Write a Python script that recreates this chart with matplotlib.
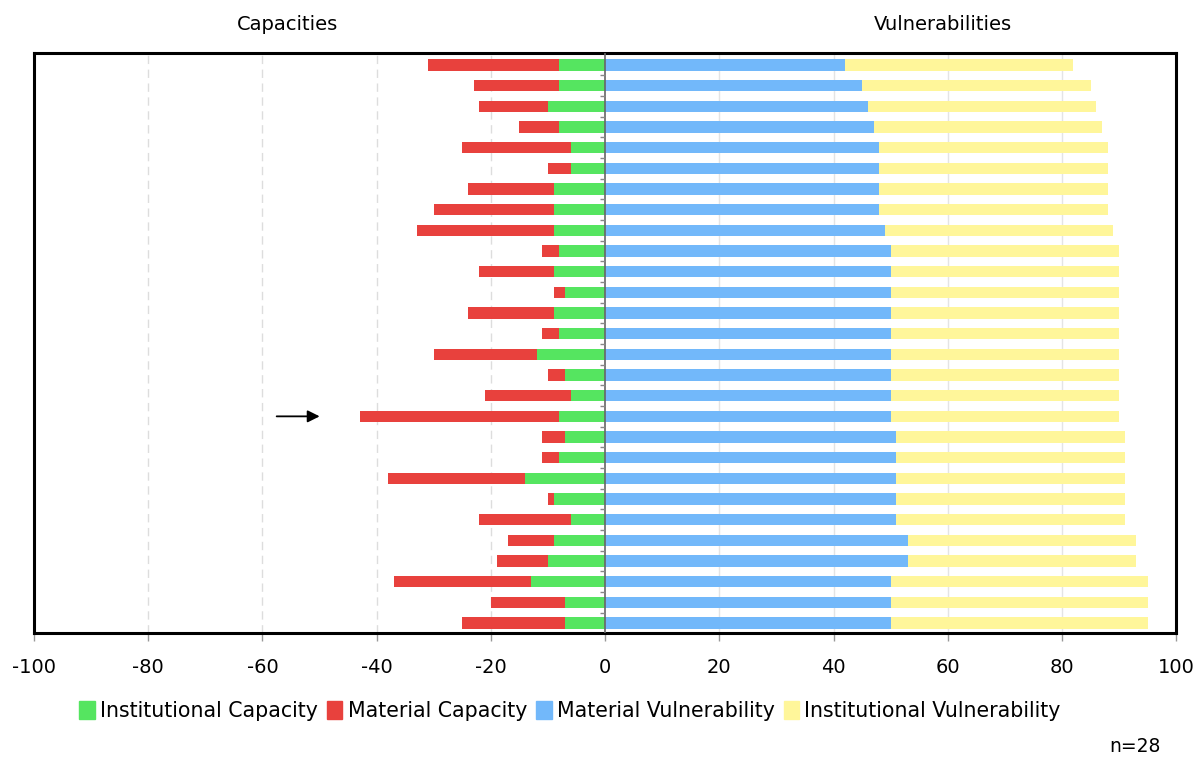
import matplotlib
matplotlib.use("Agg")
import matplotlib.pyplot as plt
from matplotlib.patches import Patch
import numpy as np

plt.rcParams['font.family'] = ['DejaVu Sans']

# Data (28 respondents, top to bottom)
institutional_capacity = [8, 8, 10, 8, 6, 6, 9, 9, 9, 8, 9, 7, 9, 8, 12, 7, 6, 8, 7, 8,
                          14, 9, 6, 9, 10, 13, 7, 7]
material_capacity = [23, 15, 12, 7, 19, 4, 15, 21, 24, 3, 13, 2, 15, 3, 18, 3, 15, 35, 4, 3,
                     24, 1, 16, 8, 9, 24, 13, 18]
material_vulnerability = [42, 45, 46, 47, 48, 48, 48, 48, 49, 50, 50, 50, 50, 50, 50, 50, 50, 50,
                          51, 51, 51, 51, 51, 53, 53, 50, 50, 50]
institutional_vulnerability = [40] * 25 + [45, 45, 45]

series_labels = ["Institutional Capacity", "Material Capacity",
                 "Material Vulnerability", "Institutional Vulnerability"]
xticks = [-100, -80, -60, -40, -20, 0, 20, 40, 60, 80, 100]

c_green = "#55e560"
c_red = "#e8413d"
c_blue = "#72b8fa"
c_yellow = "#fff69a"

fig = plt.figure(figsize=(11.93, 7.58), dpi=100)
ax = fig.add_axes([0.0285, 0.165, 0.9575, 0.765])

n = len(institutional_capacity)
y = np.arange(n)
ic = np.array(institutional_capacity)
mc = np.array(material_capacity)
mv = np.array(material_vulnerability)
iv = np.array(institutional_vulnerability)
h = 0.55

# gridlines
for t in xticks[1:-1]:
    if t < 0:
        ax.axvline(t, color="#dddddd", lw=1, ls=(0, (6, 4)), zorder=0)
    elif t > 0:
        ax.axvline(t, color="#e4e4e4", lw=1, zorder=0)

ax.barh(y, -ic, height=h, color=c_green, zorder=2)
ax.barh(y, -mc, left=-ic, height=h, color=c_red, zorder=2)
ax.barh(y, mv, height=h, color=c_blue, zorder=2)
ax.barh(y, iv, left=mv, height=h, color=c_yellow, zorder=2)

# center axis with minor ticks
ax.axvline(0, color="#666666", lw=1.2, zorder=3)
ax.hlines(y[:-1] + 0.5, -0.9, 0, color="#888888", lw=1, zorder=3)

ax.set_xlim(-100, 100)
ax.set_ylim(n - 0.52, -0.58)
ax.set_yticks([])
ax.set_xticks(xticks)
ax.set_xticklabels([str(t) for t in xticks], fontsize=14)
ax.tick_params(axis='x', length=6, width=1, color="#999999", pad=12)
for s in ax.spines.values():
    s.set_linewidth(2.2)
    s.set_color("black")

# arrow
ax.annotate("", xy=(-49.5, 17), xytext=(-58, 17),
            arrowprops=dict(arrowstyle="-|>", color="black", lw=1.3, mutation_scale=18),
            zorder=5)

# headers
fig.text(288 / 1193, 1 - 24 / 758, "Capacities", ha="center", va="center", fontsize=14)
fig.text(943 / 1193, 1 - 24 / 758, "Vulnerabilities", ha="center", va="center", fontsize=14)
fig.text(1135 / 1193, 1 - 747 / 758, "n=28", ha="center", va="center", fontsize=13.5)

handles = [Patch(color=c_green), Patch(color=c_red), Patch(color=c_blue), Patch(color=c_yellow)]
fig.legend(handles, series_labels, loc="center", bbox_to_anchor=(570 / 1193, 1 - 711 / 758),
           ncol=4, frameon=False, fontsize=14.8, handlelength=0.75, handleheight=1.0,
           handletextpad=0.25, columnspacing=0.45)

fig.savefig("out.png", dpi=100)
